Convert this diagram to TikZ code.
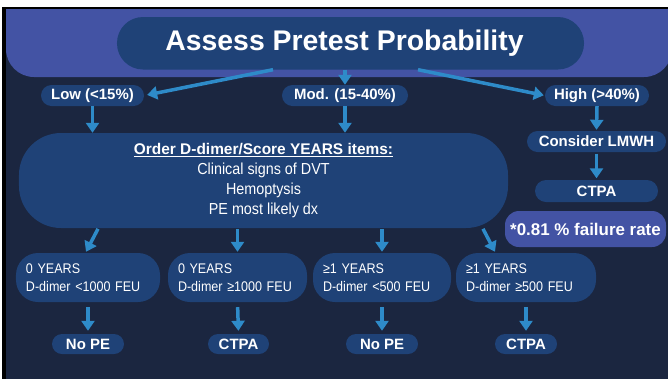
\documentclass[tikz,border=0pt]{standalone}
\usepackage{fontspec}
\setmainfont{Liberation Sans}
\newfontfamily\narrowf[FakeStretch=0.9]{Liberation Sans}
\usetikzlibrary{arrows.meta,calc}
\definecolor{bgc}{HTML}{1B2640}
\definecolor{bandc}{HTML}{4353A4}
\definecolor{boxc}{HTML}{1F4277}
\definecolor{arrc}{HTML}{2E8BC9}
\newcommand\myfs[2]{\fontsize{#1}{#2}\selectfont}
\begin{document}
\begin{tikzpicture}[x=1bp,y=-1bp,
  arr/.style={draw=arrc, line width=3.5bp, -{Triangle[width=13bp,length=10bp]}},
  pill/.style={fill=boxc, rounded corners=10.5bp, minimum height=21bp, inner sep=0pt, text=white, font=\bfseries\myfs{15}{18}},
  ybox/.style={fill=boxc, rounded corners=22bp, minimum height=49bp, inner xsep=10bp, inner ysep=0pt, text=white, align=left, font=\narrowf\myfs{14}{18}},
  rpill/.style={pill, minimum height=20bp, rounded corners=10bp}
]
\useasboundingbox (0,0) rectangle (668,379);
\fill[white] (0,0) rectangle (668,379);
\fill[black] (1.5,7) rectangle (668,379);
\fill[bgc] (6,9.5) rectangle (668,379);
\begin{scope}
\clip (6,9.5) rectangle (668,379);
\fill[bandc, rounded corners=28bp] (6,-40) rectangle (672,77);
\end{scope}

\node[fill=boxc, rounded corners=26bp, minimum width=467bp, minimum height=52.5bp, inner sep=0pt, text=white, font=\bfseries\myfs{28.5}{32}] (title) at (350.5,43.25) {Assess Pretest Probability\hspace*{12bp}};

\node[pill, minimum width=103bp] (low) at (92.5,95.5) {Low (<15\%)};
\node[pill, minimum width=126bp] (mod) at (345,95.5) {Mod. (15-40\%)};
\node[pill, minimum width=104bp] (high) at (597,95.5) {High (>40\%)};
\node[pill, minimum width=139bp] (lmwh) at (596.5,141.5) {Consider LMWH};
\node[pill, minimum width=123bp, minimum height=22bp, rounded corners=11bp] (ctpar) at (596.5,191) {CTPA};
\node[fill=bandc, rounded corners=14bp, minimum width=161bp, minimum height=36bp, inner sep=0pt, text=white, font=\bfseries\myfs{17}{20}] (fail) at (585.5,229) {*0.81 \% failure rate};

\node[fill=boxc, rounded corners=42bp, minimum width=489bp, minimum height=95bp, inner sep=0pt, text=white, align=center, font=\narrowf\myfs{16}{19.2}] (big) at (263.5,180.5) {{\rmfamily\bfseries\myfs{15.5}{19.2}\underline{Order D-dimer/Score YEARS items:}}\\[0.6bp]Clinical signs of DVT\\[0.6bp]Hemoptysis\\[0.6bp]PE most likely dx};

\node[ybox, text width=124bp] (b1) at (88,277.5) {0 YEARS\\D-dimer <1000 FEU};
\node[ybox, text width=119bp] (b2) at (237.5,277.5) {0 YEARS\\D-dimer ≥1000 FEU};
\node[ybox, text width=118bp] (b3) at (382,277.5) {≥1 YEARS\\D-dimer <500 FEU};
\node[ybox, text width=120bp] (b4) at (526,277.5) {≥1 YEARS\\D-dimer ≥500 FEU};

\node[rpill, minimum width=72bp] (r1) at (88,344) {No PE};
\node[rpill, minimum width=61bp] (r2) at (238.5,344) {CTPA};
\node[rpill, minimum width=72bp] (r3) at (382,344) {No PE};
\node[rpill, minimum width=62bp] (r4) at (526,344) {CTPA};

\draw[arr, shorten >=3bp] ([xshift=-77.5bp]title.south) -- (low.east);
\draw[arr] (title.south -| mod.north) -- (mod.north);
\draw[arr, shorten >=1bp] ([xshift=67.5bp]title.south) -- (high.west);
\draw[arr] (low.south) -- (low.south |- big.north);
\draw[arr] (mod.south) -- (mod.south |- big.north);
\draw[arr, shorten >=1bp] (high.south) -- (lmwh.north);
\draw[arr, shorten <=1.5bp, shorten >=1.5bp] (lmwh.south) -- (ctpar.north);
\draw[arr] ($(b1.north)+(10,-24)$) -- ($(b1.north)+(-2,-1)$);
\draw[arr, shorten <=1bp, shorten >=1bp] (b2.north |- big.south) -- (b2.north);
\draw[arr, shorten <=1bp, shorten >=1bp] (b3.north |- big.south) -- (b3.north);
\draw[arr] ($(b4.north)+(-43,-24)$) -- ($(b4.north)+(-31,-1)$);
\draw[arr, shorten <=5bp, shorten >=3bp] (b1.south) -- (r1.north);
\draw[arr, shorten <=5bp, shorten >=3bp] (b2.south) -- (r2.north);
\draw[arr, shorten <=5bp, shorten >=3bp] (b3.south) -- (r3.north);
\draw[arr, shorten <=5bp, shorten >=3bp] (b4.south) -- (r4.north);
\end{tikzpicture}
\end{document}
